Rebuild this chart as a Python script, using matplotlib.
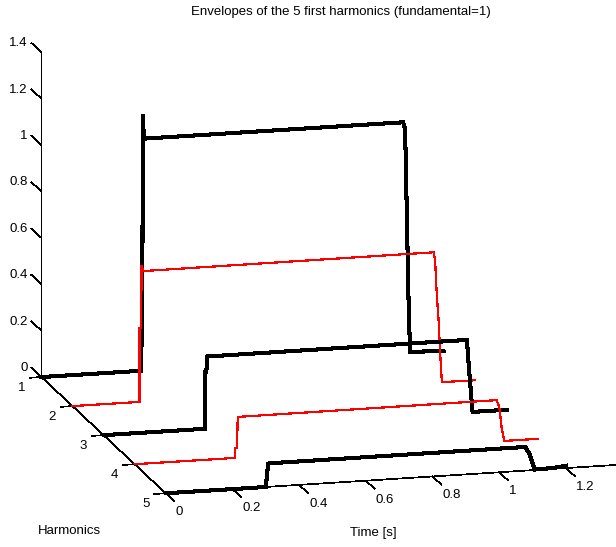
import numpy as np
import matplotlib
matplotlib.use("Agg")
import matplotlib.pyplot as plt
from mpl_toolkits.mplot3d import proj3d

plt.rcParams['font.family'] = ['Liberation Sans', 'DejaVu Sans']

# envelope breakpoints (time in s, amplitude rel. to fundamental)
harmonics = [1, 2, 3, 4, 5]
h1_time = [0, 0.297, 0.297, 0.302, 0.304, 0.307, 1.084, 1.090, 1.101, 1.105, 1.205]
h1_amp = [0, 0, 0.11, 0.11, 1.105, 1.0, 1.0, 0.97, 0.18, 0.008, 0.004]
h2_time = [0, 0.201, 0.201, 0.206, 0.207, 0.212, 1.083, 1.087, 1.092, 1.097, 1.104, 1.107, 1.206]
h2_amp = [0, 0, 0.32, 0.32, 0.587, 0.563, 0.565, 0.523, 0.375, 0.275, 0.073, 0.003, 0.002]
h3_time = [0, 0.303, 0.303, 0.308, 0.311, 1.089, 1.095, 1.103, 1.106, 1.21]
h3_amp = [0, 0, 0.244, 0.244, 0.311, 0.312, 0.193, 0.049, 0.0, 0.0]
h4_time = [0, 0.302, 0.302, 0.307, 0.309, 1.085, 1.093, 1.100, 1.108, 1.208]
h4_amp = [0, 0, 0.044, 0.044, 0.176, 0.178, 0.145, 0.058, 0.0, 0.0]
h5_time = [0, 0.300, 0.307, 0.313, 1.078, 1.091, 1.106, 1.16, 1.2]
h5_amp = [0, 0, 0.10, 0.101, 0.102, 0.068, 0.002, 0.004, 0.01]

time_ticks = [0, 0.2, 0.4, 0.6, 0.8, 1, 1.2]
amp_ticks = [0, 0.2, 0.4, 0.6, 0.8, 1, 1.2, 1.4]

envelopes = [(h1_time, h1_amp), (h2_time, h2_amp), (h3_time, h3_amp),
             (h4_time, h4_amp), (h5_time, h5_amp)]
styles = [('k', 2.2), ('r', 0.85), ('k', 2.2), ('r', 0.85), ('k', 2.2)]

W, H = 616, 547
FS = 9.5
fig = plt.figure(figsize=(W / 100, H / 100), dpi=100)

ax = fig.add_axes([0, 0, 1, 1], projection='3d', proj_type='ortho',
                  computed_zorder=False)
ax.set_xlim(1, 5)
ax.set_ylim(0, 1.4)
ax.set_zlim(0, 1.4)
ax.set_box_aspect((4 * 123.4, 1.4 * 344, 1.4 * 238.6))
ax.view_init(elev=14.05, azim=-14.55)
ax.set_axis_off()
fig.canvas.draw()


def view_frac(x, y, z):
    """fraction of the (square) 3d axes box where a data point lands"""
    u, v, _ = proj3d.proj_transform(np.atleast_1d(x), np.atleast_1d(y),
                                    np.atleast_1d(z), ax.get_proj())
    x0, x1 = ax.viewLim.intervalx
    y0, y1 = ax.viewLim.intervaly
    return (u[0] - x0) / (x1 - x0), (v[0] - y0) / (y1 - y0)


# place the square axes so the box corners sit where the reference has them
# (pixel targets from the top-left corner of the picture)
anchors = [((1, 0, 0), (40, 378)), ((5, 0, 0), (166, 492.5)),
           ((1, 0, 1.4), (40, 54)), ((5, 1.2, 0), (567, 467)),
           ((5, 0.2, 0), (234, 488.3))]
rows, rhs = [], []
for (x, y, z), (tx, ty) in anchors:
    fx, fy = view_frac(x, y, z)
    rows.append([fx, 1, 0]); rhs.append(tx)
    rows.append([fy, 0, 1]); rhs.append(H - ty)
side, left, bottom = np.linalg.lstsq(np.array(rows), np.array(rhs), rcond=None)[0]
ax.set_position([left / W, bottom / H, side / W, side / H])
fig.canvas.draw()


def pix(x, y, z):
    """display pixel (from bottom-left) of a data point"""
    u, v, _ = proj3d.proj_transform(np.atleast_1d(x), np.atleast_1d(y),
                                    np.atleast_1d(z), ax.get_proj())
    return ax.transData.transform((u[0], v[0]))


def label(px, py, s, **kw):
    fig.text(px / W, py / H, s, fontsize=FS, **kw)


axis_kw = dict(color='k', lw=0.5, clip_on=False, antialiased=False)

# axis lines
ax.plot([1, 1], [0, 0], [0, 1.4], **axis_kw)
ax.plot([1, 5], [0, 0], [0, 0], **axis_kw)
ax.plot([5, 5], [0, 1.4], [0, 0], **axis_kw)

# amplitude ticks
for z in amp_ticks:
    ax.plot([1, 0.68], [0, 0], [z, z], **axis_kw)
    px, py = pix(1, 0, z)
    label(px - 14, py + 9, f"{z:g}", ha='right', va='center')

# harmonic ticks
for h in harmonics:
    ax.plot([h, h], [0, -0.036], [0, 0], **axis_kw)
    px, py = pix(h, 0, 0)
    label(px - 20, py - 10.5, str(h), ha='center', va='center')

# time ticks
for t in time_ticks:
    ax.plot([5, 5.28], [t, t], [0, 0], **axis_kw)
    px, py = pix(5, t, 0)
    label(px + 10, py - 19, f"{t:g}", ha='left', va='center')

# envelopes
for h, (t, a), (c, lw) in zip(harmonics, envelopes, styles):
    ax.plot(np.full(len(t), h), t, a, color=c, lw=lw, clip_on=False,
            antialiased=False, solid_joinstyle='miter')

label(341, H - 12, "Envelopes of the 5 first harmonics (fundamental=1)",
      ha='center', va='center')
label(69, H - 531, "Harmonics", ha='center', va='center')
label(373, H - 533, "Time [s]", ha='center', va='center')

fig.savefig("out.png", dpi=100)
